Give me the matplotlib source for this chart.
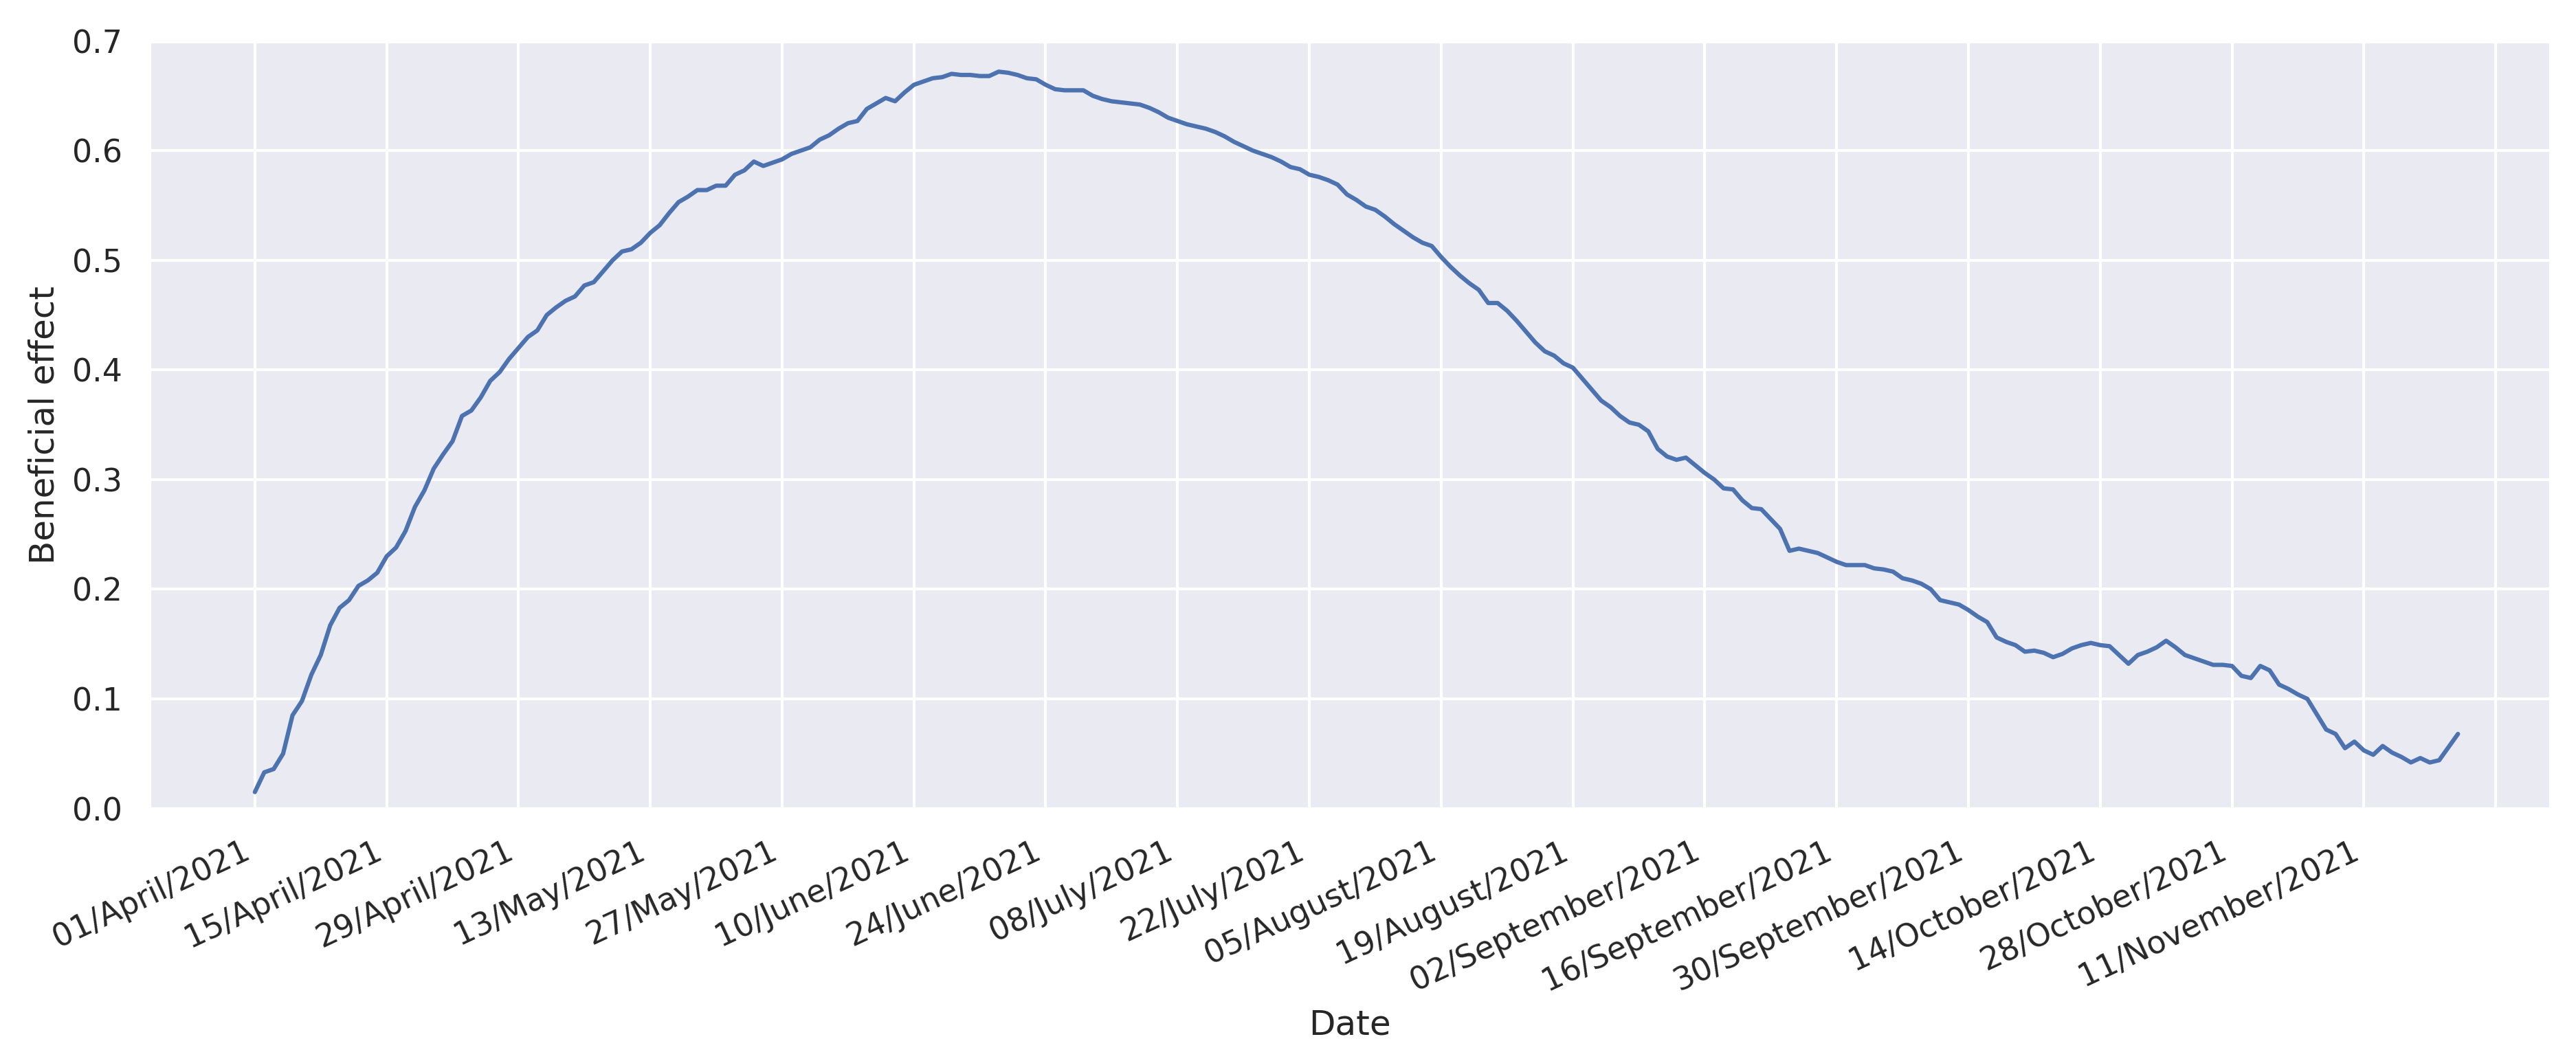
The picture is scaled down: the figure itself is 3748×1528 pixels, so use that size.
import matplotlib
matplotlib.use("Agg")
import matplotlib.pyplot as plt
import seaborn as sns
import numpy as np
import pandas as pd

start_date = "2021-04-01"
values = [0.015,0.033,0.036,0.05,0.085,0.098,0.122,0.14,0.167,0.183,0.19,0.203,0.208,0.215,0.23,0.238,0.253,0.275,0.29,0.31,
0.323,0.335,0.358,0.363,0.375,0.39,0.398,0.41,0.42,0.43,0.436,0.45,0.457,0.463,0.467,0.477,0.48,0.49,0.5,0.508,
0.51,0.516,0.525,0.532,0.543,0.553,0.558,0.564,0.564,0.568,0.568,0.578,0.582,0.59,0.586,0.589,0.592,0.597,0.6,0.603,
0.61,0.614,0.62,0.625,0.627,0.638,0.643,0.648,0.645,0.653,0.66,0.663,0.666,0.667,0.67,0.669,0.669,0.668,0.668,0.672,
0.671,0.669,0.666,0.665,0.66,0.656,0.655,0.655,0.655,0.65,0.647,0.645,0.644,0.643,0.642,0.639,0.635,0.63,0.627,0.624,
0.622,0.62,0.617,0.613,0.608,0.604,0.6,0.597,0.594,0.59,0.585,0.583,0.578,0.576,0.573,0.569,0.56,0.555,0.549,0.546,
0.54,0.533,0.527,0.521,0.516,0.513,0.503,0.494,0.486,0.479,0.473,0.461,0.461,0.454,0.445,0.435,0.425,0.417,0.413,0.406,
0.402,0.392,0.382,0.372,0.366,0.358,0.352,0.35,0.344,0.328,0.321,0.318,0.32,0.313,0.306,0.3,0.292,0.291,0.281,0.274,
0.273,0.264,0.255,0.235,0.237,0.235,0.233,0.229,0.225,0.222,0.222,0.222,0.219,0.218,0.216,0.21,0.208,0.205,0.2,0.19,
0.188,0.186,0.181,0.175,0.17,0.156,0.152,0.149,0.143,0.144,0.142,0.138,0.141,0.146,0.149,0.151,0.149,0.148,0.14,0.132,
0.14,0.143,0.147,0.153,0.147,0.14,0.137,0.134,0.131,0.131,0.13,0.121,0.119,0.13,0.126,0.113,0.109,0.104,0.1,0.086,
0.072,0.068,0.055,0.061,0.053,0.049,0.057,0.051,0.047,0.042,0.046,0.042,0.044,0.056,0.068]
dates = pd.date_range(start_date, periods=len(values), freq="D")
tick_dates = pd.date_range(start_date, periods=18, freq="14D")
tick_labels = [d.strftime("%d/%B/%Y") for d in tick_dates[:-1]] + [""]

sns.set_theme(style="darkgrid")
fig = plt.figure(figsize=(3748/300, 1528/300), dpi=300)
ax = fig.add_axes([0.058, 0.23, 0.932, 0.731])
ax.plot(dates, values, color="#4c72b0", lw=1.5)
ax.set_xticks(tick_dates)
ax.set_xticklabels(tick_labels, rotation=25, ha="right")
ax.set_xlim(pd.Timestamp(start_date) - pd.Timedelta(days=11.2), pd.Timestamp(start_date) + pd.Timedelta(days=243.8))
ax.set_ylim(0, 0.7)
ax.set_xlabel("Date")
ax.set_ylabel("Beneficial effect")
fig.savefig("out.png", dpi=300)
